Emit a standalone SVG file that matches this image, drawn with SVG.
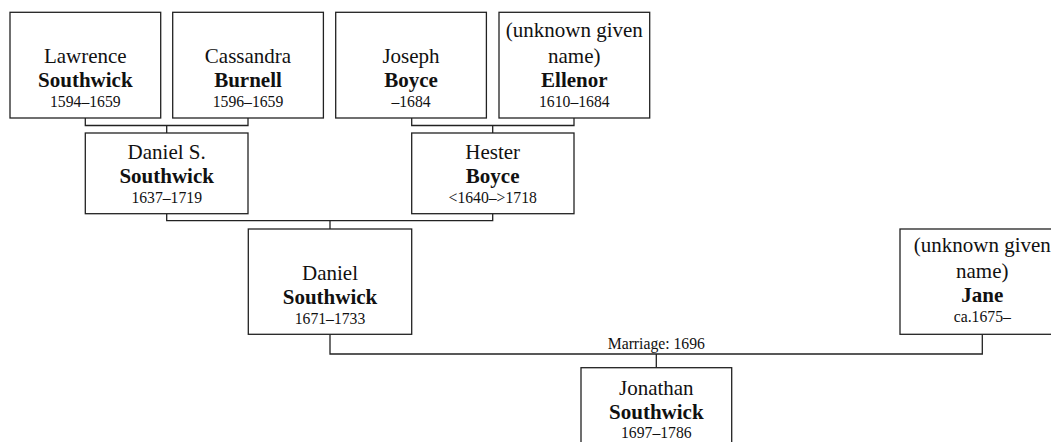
<svg xmlns="http://www.w3.org/2000/svg" width="1051" height="442" viewBox="0 0 1051 442">
<style>
.box{fill:#fff;stroke:#222;stroke-width:1.3}
.c{fill:none;stroke:#222;stroke-width:1.3}
text{font-family:"Liberation Serif","Times New Roman",serif;fill:#111;text-anchor:middle}
.n{font-size:21px}
.b{font-size:21px;font-weight:bold}
.d{font-size:15.7px}
</style>
<rect width="1051" height="442" fill="#fff"/>
<g id="connectors">
<path class="c" d="M85.3,118V125.5H248V118M166.7,125.5V133"/>
<path class="c" d="M411.7,118V125.5H574V118M492.7,125.5V133"/>
<path class="c" d="M166.7,213.7V220.7H492.7V213.7M330,220.7V229"/>
<path class="c" d="M330,334.3V354H982.3V334.3M656.3,354V367.7"/>
<text class="d" x="656.3" y="348.7">Marriage: 1696</text>
</g>
<g id="lawrence">
<rect class="box" x="10" y="12.3" width="150.7" height="105.7"/>
<text class="n" x="85.3" y="63.3">Lawrence</text>
<text class="b" x="85.3" y="87.3">Southwick</text>
<text class="d" x="85.3" y="107.3">1594–1659</text>
</g>
<g id="cassandra">
<rect class="box" x="172.7" y="12.3" width="150.7" height="105.7"/>
<text class="n" x="248" y="63.3">Cassandra</text>
<text class="b" x="248" y="87.3">Burnell</text>
<text class="d" x="248" y="107.3">1596–1659</text>
</g>
<g id="joseph">
<rect class="box" x="335.7" y="12.3" width="150.7" height="105.7"/>
<text class="n" x="411" y="63.3">Joseph</text>
<text class="b" x="411" y="87.3">Boyce</text>
<text class="d" x="411" y="107.3">–1684</text>
</g>
<g id="ellenor">
<rect class="box" x="499" y="12.3" width="150.7" height="105.7"/>
<text class="n" x="574.3" y="37.3">(unknown given</text>
<text class="n" x="574.3" y="63.3">name)</text>
<text class="b" x="574.3" y="87.3">Ellenor</text>
<text class="d" x="574.3" y="107.3">1610–1684</text>
</g>
<g id="danielS">
<rect class="box" x="85.3" y="133" width="162.7" height="80.7"/>
<text class="n" x="166.7" y="159.3">Daniel S.</text>
<text class="b" x="166.7" y="183.3">Southwick</text>
<text class="d" x="166.7" y="203.3">1637–1719</text>
</g>
<g id="hester">
<rect class="box" x="411.7" y="133" width="162.3" height="80.7"/>
<text class="n" x="492.7" y="159.3">Hester</text>
<text class="b" x="492.7" y="183.3">Boyce</text>
<text class="d" x="492.7" y="203.3">&lt;1640–&gt;1718</text>
</g>
<g id="daniel">
<rect class="box" x="248.3" y="229" width="163.4" height="105.3"/>
<text class="n" x="330" y="280">Daniel</text>
<text class="b" x="330" y="304.3">Southwick</text>
<text class="d" x="330" y="324">1671–1733</text>
</g>
<g id="jane">
<rect class="box" x="900" y="229" width="164.6" height="105.3"/>
<text class="n" x="982.3" y="252">(unknown given</text>
<text class="n" x="982.3" y="278">name)</text>
<text class="b" x="982.3" y="302">Jane</text>
<text class="d" x="982.3" y="322">ca.1675–</text>
</g>
<g id="jonathan">
<rect class="box" x="581" y="367.7" width="150.7" height="81"/>
<text class="n" x="656.3" y="394.5">Jonathan</text>
<text class="b" x="656.3" y="419">Southwick</text>
<text class="d" x="656.3" y="438">1697–1786</text>
</g>
</svg>
